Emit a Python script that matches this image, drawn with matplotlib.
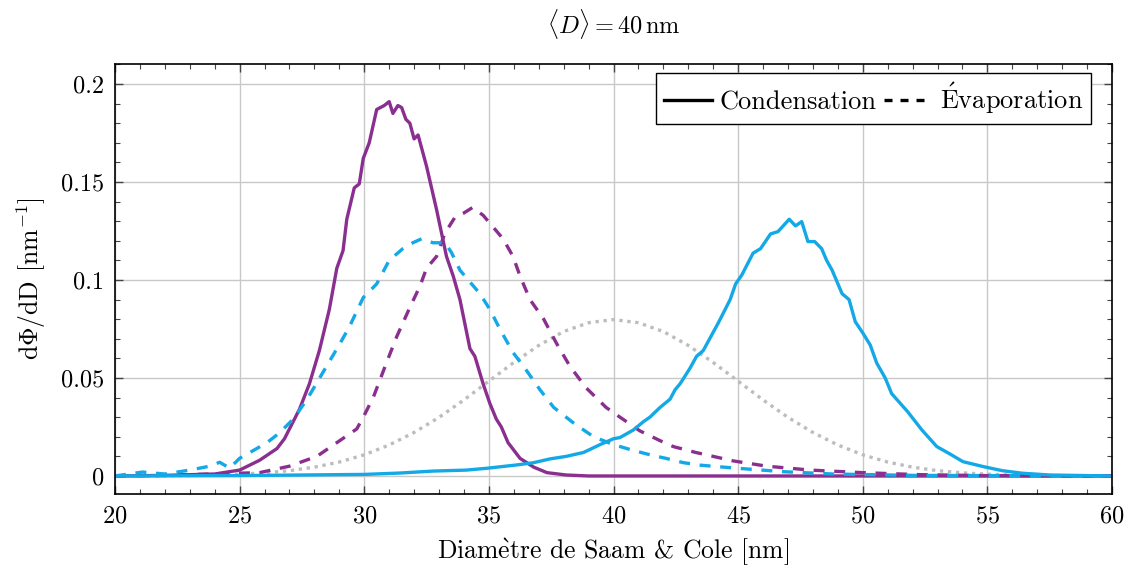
import matplotlib
matplotlib.use("Agg")
import matplotlib.pyplot as plt
from matplotlib.lines import Line2D
from matplotlib.ticker import MultipleLocator

plt.rcParams['font.family'] = 'serif'
plt.rcParams['font.serif'] = ['cmr10', 'DejaVu Serif']
plt.rcParams['mathtext.fontset'] = 'cm'
plt.rcParams['axes.formatter.use_mathtext'] = True

purple = '#8a2f8f'
cyan = '#12a9e6'

# condensation, first population (purple, solid)
c1_x = [20, 22, 24, 25, 25.8, 26.5, 26.8, 27.4, 27.8, 28.2, 28.6, 28.9, 29.15, 29.3,
        29.6, 29.8, 29.96, 30.2, 30.5, 30.8, 31.0, 31.15, 31.35, 31.5, 31.67, 31.83,
        32.0, 32.16, 32.5, 32.9, 33.3, 33.57, 33.84, 34.24, 34.44, 34.77, 35.04, 35.3,
        35.5, 35.77, 36.25, 36.8, 37.33, 38.1, 39, 45, 60]
c1_y = [0, 0.0003, 0.001, 0.003, 0.008, 0.014, 0.019, 0.034, 0.047, 0.064, 0.085, 0.106,
        0.115, 0.131, 0.147, 0.149, 0.162, 0.170, 0.187, 0.189, 0.191, 0.185, 0.189,
        0.188, 0.182, 0.180, 0.172, 0.174, 0.158, 0.136, 0.112, 0.102, 0.090, 0.065,
        0.061, 0.047, 0.037, 0.029, 0.025, 0.017, 0.009, 0.0045, 0.0017, 0.0005, 0, 0, 0]

# evaporation, first population (purple, dashed)
e1_x = [20, 22, 23.8, 25.8, 27.0, 28.1, 28.9, 29.7, 29.96, 30.36, 30.9, 31.3, 31.83,
        32.24, 32.5, 32.9, 33.24, 33.64, 33.97, 34.35, 34.77, 35.17, 35.57, 35.97,
        36.25, 36.65, 37.2, 37.7, 38.25, 38.9, 39.7, 40.26, 41.06, 41.87, 42.4, 43.3,
        44.8, 46.15, 47.9, 50.0, 52.2, 54.8, 60]
e1_y = [0, 0.0003, 0.001, 0.0017, 0.005, 0.010, 0.017, 0.024, 0.030, 0.040, 0.058,
        0.071, 0.086, 0.097, 0.106, 0.112, 0.124, 0.132, 0.134, 0.137, 0.133, 0.127,
        0.121, 0.112, 0.102, 0.090, 0.080, 0.068, 0.056, 0.045, 0.035, 0.030, 0.023,
        0.018, 0.015, 0.012, 0.0077, 0.005, 0.003, 0.0017, 0.0007, 0.0002, 0]

# condensation, second population (cyan, solid)
c2_x = [20, 25, 30, 31.43, 32.76, 34.1, 34.97, 36.1, 36.8, 37.45, 38.1, 38.8, 39.46,
        40.0, 40.26, 40.8, 41.2, 41.46, 41.87, 42.27, 42.47, 42.67, 43.07, 43.33, 43.6,
        44.2, 44.68, 44.9, 45.15, 45.6, 45.9, 46.3, 46.6, 47.05, 47.3, 47.55, 47.8,
        48.07, 48.35, 48.55, 48.77, 49.17, 49.45, 49.7, 50.0, 50.3, 50.56, 50.9, 51.16,
        51.8, 52.37, 52.97, 53.5, 54.02, 54.83, 55.6, 56.4, 57.5, 60]
c2_y = [0, 0.0002, 0.0008, 0.0015, 0.0025, 0.003, 0.004, 0.0056, 0.0068, 0.0087, 0.010,
        0.012, 0.016, 0.019, 0.0196, 0.0235, 0.0277, 0.030, 0.035, 0.0392, 0.044, 0.047,
        0.055, 0.061, 0.064, 0.078, 0.090, 0.098, 0.1026, 0.1137, 0.116, 0.1235, 0.1247,
        0.131, 0.1276, 0.1298, 0.1196, 0.1196, 0.116, 0.110, 0.105, 0.093, 0.090, 0.0787,
        0.073, 0.0668, 0.0576, 0.050, 0.042, 0.0328, 0.0235, 0.015, 0.0112, 0.0073,
        0.0048, 0.0027, 0.0014, 0.0005, 0]

# evaporation, second population (cyan, dashed)
e2_x = [20, 21.1, 22, 23.0, 23.8, 24.2, 24.6, 25.0, 25.55, 26.1, 26.6, 27.15, 27.7,
        28.35, 29.0, 29.4, 29.96, 30.5, 31.0, 31.55, 31.95, 32.3, 32.76, 33.24, 33.5,
        33.84, 34.24, 34.64, 35.04, 35.44, 35.97, 36.5, 37.05, 37.6, 38.4, 39.2, 40.0,
        40.8, 41.5, 42.1, 42.8, 43.5, 44.8, 46.8, 48.8, 52, 60]
e2_y = [0, 0.002, 0.001, 0.003, 0.005, 0.007, 0.004, 0.009, 0.013, 0.017, 0.022, 0.029,
        0.039, 0.053, 0.067, 0.076, 0.091, 0.098, 0.110, 0.116, 0.119, 0.121, 0.119,
        0.119, 0.114, 0.105, 0.099, 0.093, 0.085, 0.075, 0.063, 0.054, 0.044, 0.035,
        0.027, 0.020, 0.016, 0.013, 0.0107, 0.009, 0.0068, 0.0055, 0.0041, 0.0022,
        0.001, 0.0003, 0]

# reference distribution (gray, dotted)
ref_x = list(range(20, 61))
ref_y = [0.0000, 0.0001, 0.0001, 0.0002, 0.0005, 0.0009, 0.0016, 0.0027, 0.0045, 0.0071,
         0.0108, 0.0158, 0.0222, 0.0299, 0.0388, 0.0484, 0.0579, 0.0666, 0.0737, 0.0782,
         0.0798, 0.0782, 0.0737, 0.0666, 0.0579, 0.0484, 0.0388, 0.0299, 0.0222, 0.0158,
         0.0108, 0.0071, 0.0045, 0.0027, 0.0016, 0.0009, 0.0005, 0.0002, 0.0001, 0.0001,
         0.0000]

fig = plt.figure(figsize=(11.26, 5.66), dpi=100)
ax = fig.add_axes([0.1021, 0.1272, 0.8855, 0.7597])

lw = 2.4
ax.plot(ref_x, ref_y, color='#bdbdbd', lw=lw, linestyle=(0, (1, 1.4)))
ax.plot(c1_x, c1_y, color=purple, lw=lw)
ax.plot(e1_x, e1_y, color=purple, lw=lw, linestyle=(0, (3.3, 2.9)))
ax.plot(c2_x, c2_y, color=cyan, lw=lw)
ax.plot(e2_x, e2_y, color=cyan, lw=lw, linestyle=(0, (3.3, 2.9)))

ax.set_xlim(20, 60)
ax.set_ylim(-0.0092, 0.2102)
ax.set_xticks([20, 25, 30, 35, 40, 45, 50, 55, 60])
ax.set_yticks([0, 0.05, 0.1, 0.15, 0.2])
ax.set_yticklabels(['0', '0.05', '0.1', '0.15', '0.2'])
ax.xaxis.set_minor_locator(MultipleLocator(1))
ax.yaxis.set_minor_locator(MultipleLocator(0.01))
ax.tick_params(which='both', direction='in', top=True, right=True, labelsize=17.5,
               color='#444444')
ax.tick_params(which='major', length=6, width=1, pad=8)
ax.tick_params(which='minor', length=3.5, width=0.8)
ax.grid(True, which='major', color='#c8c8c8', lw=1)
ax.set_axisbelow(True)
for s in ax.spines.values():
    s.set_linewidth(1.2)

ax.set_xlabel(r'Diam$\mathrm{\grave{e}}$tre de Saam & Cole [nm]', fontsize=18.5, labelpad=7)
ax.set_ylabel(r'd$\Phi$/dD [nm$^{-1}$]', fontsize=18.5, labelpad=9)
ax.set_title(r'$\langle D\rangle = 40\,\mathrm{nm}$', fontsize=17.5, pad=22)

handles = [Line2D([], [], color='black', lw=lw),
           Line2D([], [], color='black', lw=lw, linestyle=(0, (2.4, 2.4)))]
leg = ax.legend(handles, ['Condensation', r'$\mathrm{\acute{E}}$vaporation'],
                loc='upper right', bbox_to_anchor=(0.979, 0.979), borderaxespad=0,
                ncol=2, fontsize=19, fancybox=False, framealpha=1, edgecolor='black',
                handlelength=1.8, handletextpad=0.3, columnspacing=0.3,
                borderpad=0.3)
leg.get_frame().set_linewidth(1)

fig.savefig('out.png', dpi=100)
